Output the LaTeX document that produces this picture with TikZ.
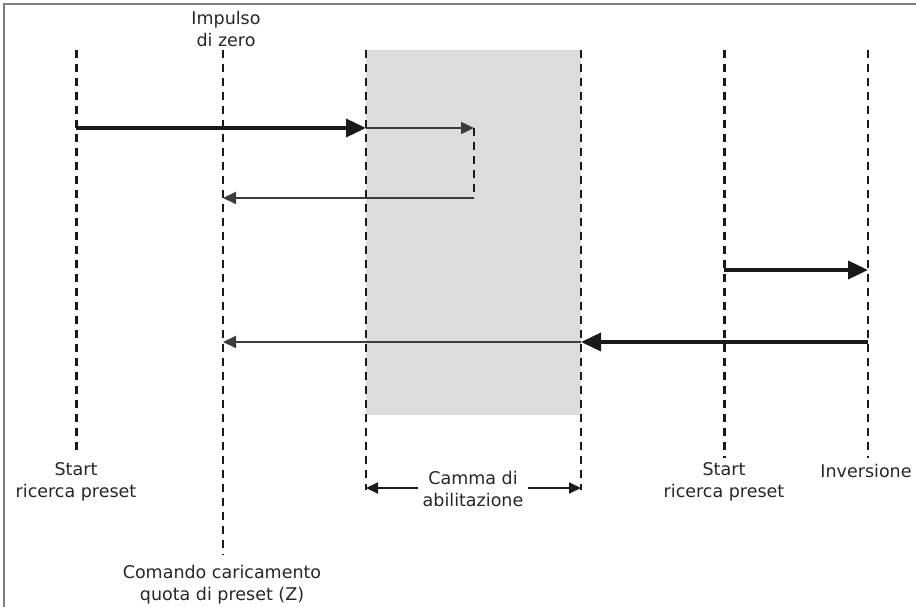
\documentclass[tikz,border=0pt]{standalone}
\usepackage{fontspec}
\setmainfont{DejaVu Sans}
\usetikzlibrary{arrows.meta}
\definecolor{txt}{HTML}{262626}
\definecolor{ink}{HTML}{1A1A1A}
\definecolor{band}{HTML}{DCDCDC}
\definecolor{frame}{HTML}{7F7F7F}
\tikzset{
  guide/.style={ink, line width=1.6pt, dash pattern=on 8pt off 6pt},
  guidebold/.style={ink, line width=3pt, dash pattern=on 8pt off 6pt},
  bigarrow/.style={ink, line width=3.6pt, -{Triangle[length=20pt,width=18pt]}},
  thinarrow/.style={ink!85, line width=1.8pt, -{Triangle[length=13pt,width=12pt]}},
  label/.style={txt, font=\fontsize{17.5}{22}\selectfont, align=center, inner sep=0pt},
}
\begin{document}
\begin{tikzpicture}[x=1pt,y=-1pt]
\useasboundingbox (0,0) rectangle (916,607);
% enabling cam band
\fill[band] (366,50) rectangle (581,415);
% frame
\draw[frame, line width=2pt] (3,4) -- (916,4);
\draw[frame, line width=2pt] (4,4) -- (4,607);

% guide lines
\coordinate (a1) at (76,50);   \coordinate (a2) at (76,455);
\coordinate (b1) at (223,50);  \coordinate (b2) at (223,555);
\coordinate (c1) at (366,50);  \coordinate (c2) at (366,490);
\coordinate (d1) at (581,50);  \coordinate (d2) at (581,490);
\coordinate (e1) at (724,50);  \coordinate (e2) at (724,458);
\coordinate (f1) at (868,50);  \coordinate (f2) at (868,458);
\draw[guidebold] (a1) -- (a2);
\draw[guide] (b1) -- (b2);
\draw[guide] (c1) -- (c2);
\draw[guide] (d1) -- (d2);
\draw[guidebold] (e1) -- (e2);
\draw[guide] (f1) -- (f2);

% search run towards the zero pulse
\coordinate (p1) at (76,128);
\coordinate (p2) at (366,128);
\coordinate (p3) at (474,128);
\coordinate (p4) at (474,198);
\coordinate (p5) at (223,198);
\draw[bigarrow] (p1) -- (p2);
\draw[thinarrow] (p2) -- (p3);
\draw[guide] (p3) -- (p4);
\draw[thinarrow] (p4) -- (p5);

% search run after inversion
\coordinate (q1) at (724,270);
\coordinate (q2) at (868,270);
\coordinate (q3) at (868,342);
\coordinate (q4) at (581,342);
\coordinate (q5) at (223,342);
\draw[bigarrow] (q1) -- (q2);
\draw[bigarrow] (q3) -- (q4);
\draw[thinarrow] (q4) -- (q5);

% labels
\node[label] (imp) at (226,29) {Impulso\\di zero};
\node[label] (s1) at (76,482) {Start\\ricerca preset};
\node[label] (cmd) at (222,585) {Comando caricamento\\quota di preset (Z)};
\node[label] (s2) at (724,482) {Start\\ricerca preset};
\node[label] (inv) at (866,471) {Inversione};
\node[label] (cam) at (473,489) {Camma di\\abilitazione};

% enabling cam span
\coordinate (cl) at (366,488);
\coordinate (cr) at (581,488);
\coordinate (cml) at (418,488);
\coordinate (cmr) at (528,488);
\draw[ink, line width=1.8pt, -{Triangle[length=12pt,width=11pt]}] (cml) -- (cl);
\draw[ink, line width=1.8pt, -{Triangle[length=12pt,width=11pt]}] (cmr) -- (cr);
\end{tikzpicture}
\end{document}
